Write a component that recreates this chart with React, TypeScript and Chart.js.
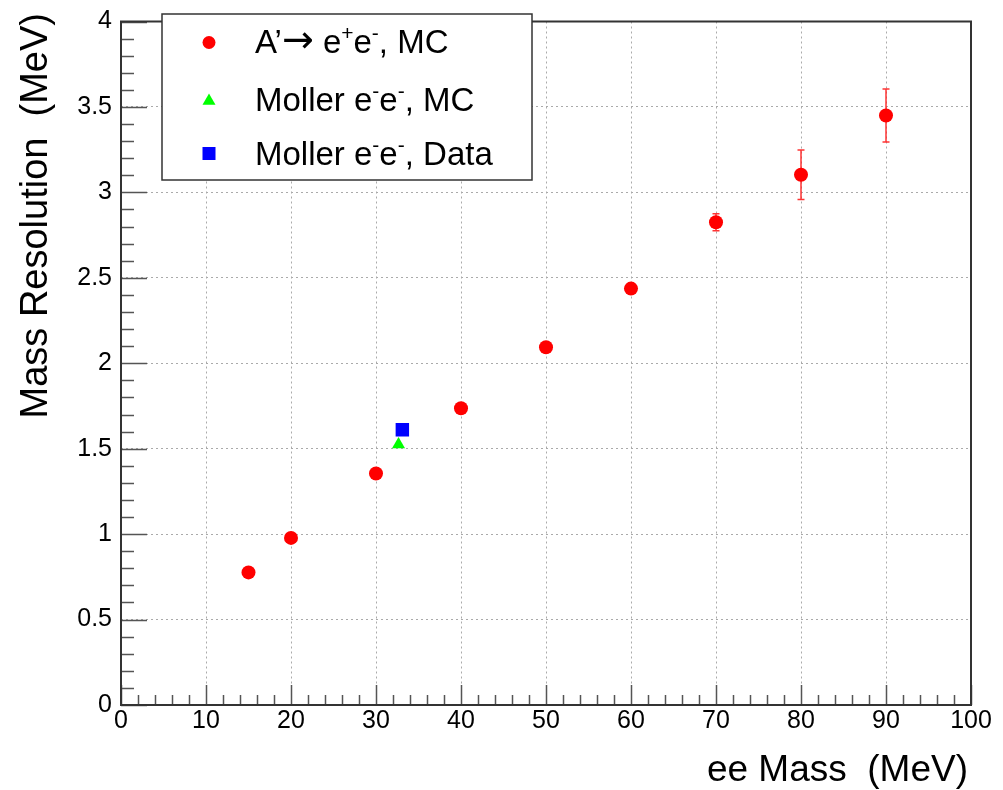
import React, { useEffect, useRef } from "react";
import { Chart, registerables } from "chart.js";

Chart.register(...registerables);

// ---- data ----
const apMass = [15, 20, 30, 40, 50, 60, 70, 80, 90];
const apRes = [0.776, 0.978, 1.355, 1.737, 2.094, 2.437, 2.825, 3.103, 3.45];
const apErr = [0.01, 0.012, 0.015, 0.018, 0.02, 0.025, 0.05, 0.145, 0.155];
const mollerMcMass = [32.65];
const mollerMcRes = [1.525];
const mollerDataMass = [33.1];
const mollerDataRes = [1.611];

const xTickValues = [0, 10, 20, 30, 40, 50, 60, 70, 80, 90, 100];
const yTickValues = [0, 0.5, 1, 1.5, 2, 2.5, 3, 3.5, 4];
const yTickLabels = ["0", "0.5", "1", "1.5", "2", "2.5", "3", "3.5", "4"];
const xTickLabels = ["0", "10", "20", "30", "40", "50", "60", "70", "80", "90", "100"];

const xTitle = "ee Mass  (MeV)";
const yTitle = "Mass Resolution  (MeV)";

// legend rich text: [text, kind] kind: 0 normal, 1 superscript, 2 symbol
const legendApParts: [string, number][] = [["A\u2019", 0], ["\u2192", 2], [" e", 0], ["+", 1], ["e", 0], ["-", 1], [", MC", 0]];
const legendMcParts: [string, number][] = [["Moller e", 0], ["-", 1], ["e", 0], ["-", 1], [", MC", 0]];
const legendDataParts: [string, number][] = [["Moller e", 0], ["-", 1], ["e", 0], ["-", 1], [", Data", 0]];

const RED = "#ff0000";
const GREEN = "#00ff00";
const BLUE = "#0000ff";
const FONT = "'Liberation Sans', Arial, Helvetica, sans-serif";

function drawRich(ctx: CanvasRenderingContext2D, parts: [string, number][], x: number, y: number) {
  let cx = x;
  for (const [t, kind] of parts) {
    ctx.font = kind === 1 ? `21px ${FONT}` : kind === 2 ? `38px 'DejaVu Sans', sans-serif` : `33px ${FONT}`;
    ctx.fillText(t, cx, kind === 1 ? y - 13 : kind === 2 ? y - 1 : y);
    cx += ctx.measureText(t).width;
  }
}

const frameAndTicks = {
  id: "frameAndTicks",
  beforeDatasetsDraw(chart: any) {
    const { ctx, scales } = chart;
    const xs = scales.x, ys = scales.y;
    ctx.save();
    ctx.strokeStyle = "rgba(255,30,30,0.9)";
    ctx.lineWidth = 1.5;
    apMass.forEach((m, i) => {
      const px = xs.getPixelForValue(m);
      const top = ys.getPixelForValue(apRes[i] + apErr[i]);
      const bot = ys.getPixelForValue(apRes[i] - apErr[i]);
      ctx.beginPath();
      ctx.moveTo(px, top);
      ctx.lineTo(px, bot);
      ctx.moveTo(px - 3.5, top);
      ctx.lineTo(px + 3.5, top);
      ctx.moveTo(px - 3.5, bot);
      ctx.lineTo(px + 3.5, bot);
      ctx.stroke();
    });
    ctx.restore();
  },
  afterDraw(chart: any) {
    const { ctx, chartArea, scales } = chart;
    const xs = scales.x, ys = scales.y;
    const { left, right, top, bottom } = chartArea;
    ctx.save();
    // ticks (inward)
    ctx.strokeStyle = "#555";
    ctx.lineWidth = 1.5;
    ctx.beginPath();
    for (let v = 0; v <= 100.001; v += 2) {
      const px = Math.round(xs.getPixelForValue(v)) + 0.5;
      const major = Math.abs(v % 10) < 1e-6;
      ctx.moveTo(px, bottom);
      ctx.lineTo(px, bottom - (major ? 20 : 10));
    }
    for (let k = 0; k <= 40; k++) {
      const v = k / 10;
      const py = Math.round(ys.getPixelForValue(v)) + 0.5;
      const major = k % 5 === 0;
      ctx.moveTo(left, py);
      ctx.lineTo(left + (major ? 26 : 13), py);
    }
    ctx.stroke();
    // frame
    ctx.strokeStyle = "#333";
    ctx.lineWidth = 2;
    ctx.strokeRect(left, top, right - left, bottom - top);

    // legend
    const lx0 = 162, ly0 = 14, lx1 = 532, ly1 = 180;
    ctx.fillStyle = "#fff";
    ctx.fillRect(lx0, ly0, lx1 - lx0, ly1 - ly0);
    ctx.strokeStyle = "#333";
    ctx.lineWidth = 1.5;
    ctx.strokeRect(lx0, ly0, lx1 - lx0, ly1 - ly0);
    const mx = 209;
    ctx.fillStyle = RED;
    ctx.beginPath();
    ctx.arc(mx, 42.5, 6.5, 0, Math.PI * 2);
    ctx.fill();
    ctx.fillStyle = GREEN;
    const tr = 7.5, ty = 101;
    ctx.beginPath();
    ctx.moveTo(mx, ty - tr);
    ctx.lineTo(mx + tr * Math.sin((2 * Math.PI) / 3), ty + tr / 2);
    ctx.lineTo(mx - tr * Math.sin((2 * Math.PI) / 3), ty + tr / 2);
    ctx.closePath();
    ctx.fill();
    ctx.fillStyle = BLUE;
    ctx.fillRect(mx - 6.5, 153.5 - 6.5, 13, 13);
    ctx.fillStyle = "#000";
    ctx.textAlign = "left";
    ctx.textBaseline = "alphabetic";
    drawRich(ctx, legendApParts, 255, 53);
    drawRich(ctx, legendMcParts, 255, 111);
    drawRich(ctx, legendDataParts, 255, 165);

    // axis titles
    ctx.fillStyle = "#000";
    ctx.font = `37px ${FONT}`;
    ctx.textAlign = "right";
    ctx.fillText(xTitle, 968, 781);
    ctx.save();
    ctx.font = `38px ${FONT}`;
    ctx.translate(47, 13);
    ctx.rotate(-Math.PI / 2);
    ctx.textAlign = "right";
    ctx.fillText(yTitle, 0, 0);
    ctx.restore();
    ctx.restore();
  },
};

export default function App() {
  const ref = useRef<HTMLCanvasElement | null>(null);
  useEffect(() => {
    if (!ref.current) return;
    const chart = new Chart(ref.current, {
      type: "scatter",
      data: {
        datasets: [
          {
            label: "A' MC",
            data: apMass.map((m, i) => ({ x: m, y: apRes[i] })),
            pointStyle: "circle",
            pointRadius: 7,
            pointBackgroundColor: RED,
            pointBorderColor: RED,
            pointBorderWidth: 0,
          },
          {
            label: "Moller MC",
            data: mollerMcMass.map((m, i) => ({ x: m, y: mollerMcRes[i] })),
            pointStyle: "triangle",
            pointRadius: 7.5,
            pointBackgroundColor: GREEN,
            pointBorderColor: GREEN,
            pointBorderWidth: 0,
          },
          {
            label: "Moller Data",
            data: mollerDataMass.map((m, i) => ({ x: m, y: mollerDataRes[i] })),
            pointStyle: "rect",
            pointRadius: 9.5,
            pointBackgroundColor: BLUE,
            pointBorderColor: BLUE,
            pointBorderWidth: 0,
          },
        ],
      },
      options: {
        animation: false,
        responsive: false,
        devicePixelRatio: 1,
        layout: { padding: { top: 14, right: 32, left: 0, bottom: 0 } },
        plugins: { legend: { display: false }, tooltip: { enabled: false } },
        scales: {
          x: {
            type: "linear",
            min: 0,
            max: 100,
            afterFit: (s: any) => { s.height = 85; },
            afterBuildTicks: (s: any) => { s.ticks = xTickValues.map((v) => ({ value: v })); },
            ticks: {
              autoSkip: false,
              maxRotation: 0,
              color: "#000",
              padding: 4,
              font: { family: FONT, size: 25, lineHeight: 1 },
              callback: (_v: any, i: number) => xTickLabels[i],
            },
            grid: {
              drawTicks: false,
              lineWidth: 1,
              color: (c: any) => (c.tick && (c.tick.value === 0 || c.tick.value === 100) ? "rgba(0,0,0,0)" : "#aaa"),
            },
            border: { display: false, dash: [2, 3] },
          },
          y: {
            type: "linear",
            min: 0,
            max: 4,
            afterFit: (s: any) => { s.width = 121; },
            afterBuildTicks: (s: any) => { s.ticks = yTickValues.map((v) => ({ value: v })); },
            ticks: {
              autoSkip: false,
              color: "#000",
              padding: 9,
              font: { family: FONT, size: 25, lineHeight: 1 },
              callback: (_v: any, i: number) => yTickLabels[i],
            },
            grid: {
              drawTicks: false,
              lineWidth: 1,
              color: (c: any) => (c.tick && (c.tick.value === 0 || c.tick.value === 4) ? "rgba(0,0,0,0)" : "#aaa"),
            },
            border: { display: false, dash: [2, 3] },
          },
        },
      },
      plugins: [frameAndTicks],
    } as any);
    return () => chart.destroy();
  }, []);
  return (
    <div style={{ position: "fixed", left: 0, top: 0, width: 1003, height: 790, background: "#fff" }}>
      <canvas ref={ref} width={1003} height={790} style={{ width: 1003, height: 790, display: "block" }} />
    </div>
  );
}
